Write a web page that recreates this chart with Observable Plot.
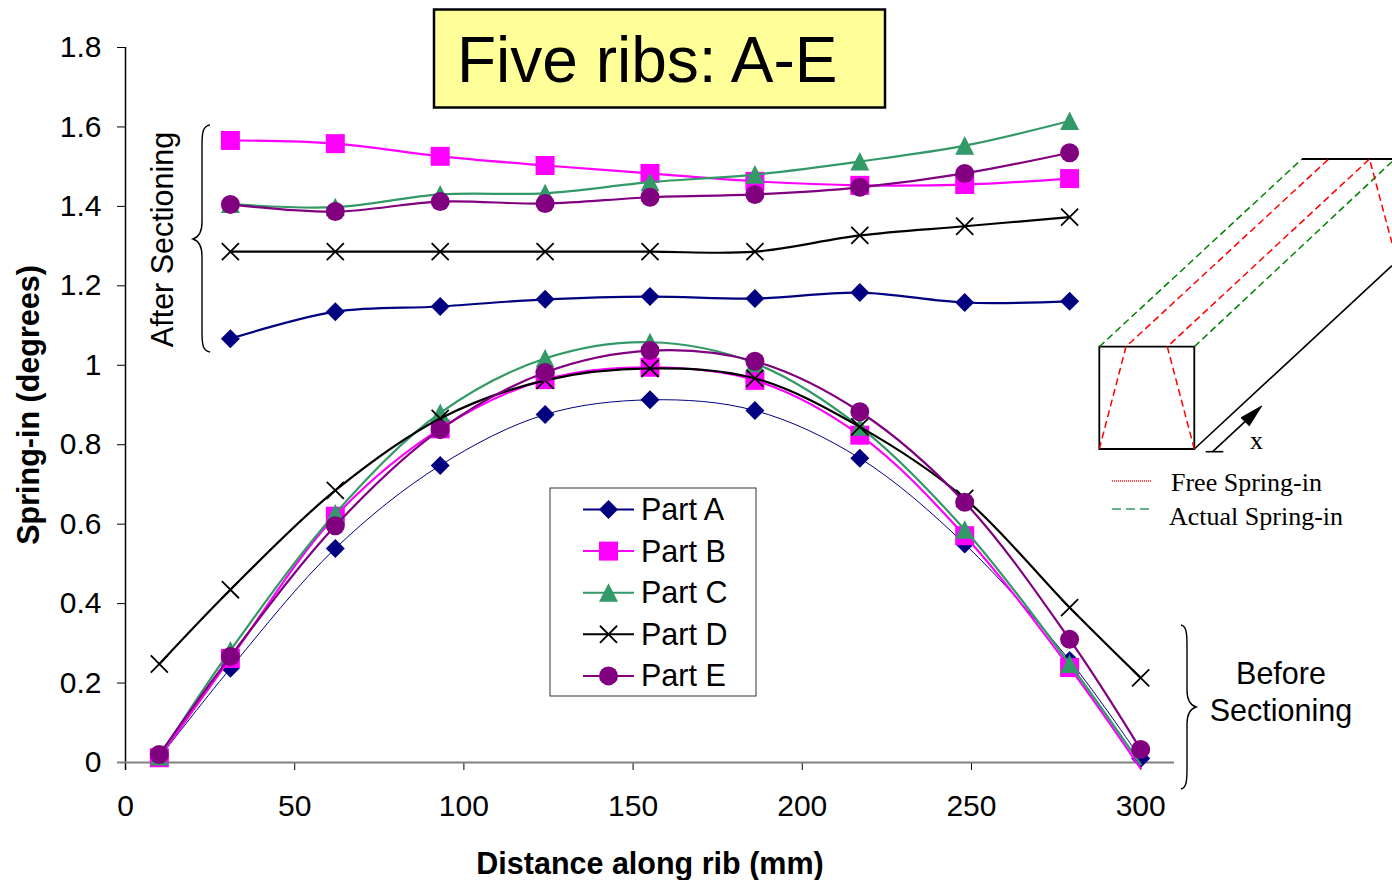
<!DOCTYPE html>
<html>
<head>
<meta charset="utf-8">
<script src="https://cdn.jsdelivr.net/npm/d3@7"></script>
<script src="https://cdn.jsdelivr.net/npm/@observablehq/plot@0.6"></script>
<style>
html,body{margin:0;padding:0;background:#fff}
svg{display:block}
g[aria-label="x-axis label"] text,g[aria-label="y-axis label"] text{font-weight:bold;font-size:30.5px;fill:#000}
</style>
</head>
<body>
<div id="chart"></div>
<script>
const parts = ["Part A","Part B","Part C","Part D","Part E"];
const colors = ["#000080","#FF00FF","#339966","#000000","#800080"];
const xBefore = [10,31,62,93,124,155,186,217,248,279,300];
const xAfter = [31,62,93,124,155,186,217,248,279];
const xTicks = [0,50,100,150,200,250,300];
const yTicks = [0,0.2,0.4,0.6,0.8,1,1.2,1.4,1.6,1.8];

const beforeA = [0.012,0.237,0.539,0.748,0.876,0.913,0.886,0.766,0.550,0.257,0.010];
const beforeB = [0.012,0.262,0.620,0.840,0.964,0.995,0.962,0.824,0.571,0.239,-0.015];
const beforeC = [0.015,0.282,0.627,0.880,1.017,1.058,1.005,0.845,0.586,0.248,-0.005];
const beforeD = [0.248,0.435,0.685,0.866,0.962,0.992,0.967,0.845,0.665,0.390,0.213];
const beforeE = [0.020,0.267,0.596,0.838,0.982,1.037,1.010,0.883,0.655,0.310,0.033];

const afterA = [1.067,1.135,1.148,1.166,1.173,1.168,1.183,1.158,1.161];
const afterB = [1.566,1.558,1.526,1.503,1.483,1.463,1.453,1.455,1.470];
const afterC = [1.406,1.398,1.430,1.433,1.461,1.480,1.513,1.553,1.615];
const afterD = [1.286,1.286,1.286,1.286,1.286,1.286,1.327,1.350,1.373];
const afterE = [1.405,1.387,1.412,1.407,1.423,1.430,1.448,1.483,1.535];

const before = [beforeA,beforeB,beforeC,beforeD,beforeE];
const after = [afterA,afterB,afterC,afterD,afterE];

// marker shapes, sized from Plot's r
const R = s => Math.sqrt(s/Math.PI);
const symDiamond = {draw(c,s){const r=R(s);c.moveTo(0,-r);c.lineTo(r,0);c.lineTo(0,r);c.lineTo(-r,0);c.closePath();}};
const symSquare = {draw(c,s){const r=R(s);c.moveTo(-r,-r);c.lineTo(r,-r);c.lineTo(r,r);c.lineTo(-r,r);c.closePath();}};
const symTriangle = {draw(c,s){const r=R(s);c.moveTo(0,-r);c.lineTo(r,r*0.95);c.lineTo(-r,r*0.95);c.closePath();}};
const symTimes = {draw(c,s){const r=R(s)*0.9;c.moveTo(-r,-r);c.lineTo(r,r);c.moveTo(r,-r);c.lineTo(-r,r);}};
const symCircle = {draw(c,s){const r=R(s);c.moveTo(r,0);c.arc(0,0,r,0,2*Math.PI);c.closePath();}};
const symbols = [symDiamond,symSquare,symTriangle,symTimes,symCircle];

const marks = [];
parts.forEach((p,i)=>{
  const tb = xBefore.map((x,k)=>({x,y:before[i][k]}));
  const ta = xAfter.map((x,k)=>({x,y:after[i][k]}));
  const isX = i===3;
  const dotOpts = isX
    ? {x:"x",y:"y",r:9.5,symbol:symbols[i],fill:"none",stroke:colors[i],strokeWidth:1.8}
    : {x:"x",y:"y",r:9.5,symbol:symbols[i],fill:colors[i],stroke:"none"};
  marks.push(Plot.line(tb,{x:"x",y:"y",curve:"catmull-rom",stroke:colors[i],strokeWidth:i===0?1:2.2}));
  marks.push(Plot.line(ta,{x:"x",y:"y",curve:"catmull-rom",stroke:colors[i],strokeWidth:2.2}));
  // points below the axis show no marker in the reference
  marks.push(Plot.dot(tb.filter(d=>d.y>=0),dotOpts));
  marks.push(Plot.dot(ta,dotOpts));
});

const plot = Plot.plot({
  width:1392,height:880,
  marginLeft:125,marginRight:218,marginTop:47,marginBottom:118,
  style:{background:"#fff",fontFamily:"'Liberation Sans',Arial,sans-serif",color:"#000"},
  x:{domain:[0,310]},
  y:{domain:[0,1.8]},
  marks:[
    Plot.axisX({ticks:xTicks,tickFormat:d=>String(d),tickSize:8,tickPadding:24,fontSize:30,
      label:"Distance along rib (mm)",labelAnchor:"center",labelArrow:"none",labelOffset:111,stroke:"#000"}),
    Plot.axisY({ticks:yTicks,tickFormat:d=>String(d),tickSize:8,tickPadding:16,fontSize:30,
      label:"Spring-in (degrees)",labelAnchor:"center",labelArrow:"none",labelOffset:108,stroke:"#000"}),
    Plot.ruleX([0],{stroke:"#000",strokeWidth:1.5,insetBottom:-8}),
    Plot.ruleY([0],{stroke:"#808080",strokeWidth:2,insetLeft:-8}),
    ...marks
  ]
});
document.getElementById("chart").appendChild(plot);

// annotations on top of the chart
const svg = d3.select(plot);
const sans = "'Liberation Sans',Arial,sans-serif", serif = "'Liberation Serif','Times New Roman',serif";
const txt = (x,y,t,size,fam,anchor)=>svg.append("text").attr("x",x).attr("y",y).text(t)
  .attr("font-size",size).attr("font-family",fam||sans).attr("text-anchor",anchor||"start").attr("fill","#000");
const pth = (d,stroke,w,dash,fill)=>svg.append("path").attr("d",d).attr("fill",fill||"none")
  .attr("stroke",stroke).attr("stroke-width",w).attr("stroke-dasharray",dash||null);

// title box
svg.append("rect").attr("x",434).attr("y",9.5).attr("width",451).attr("height",98)
  .attr("fill","#FFFF99").attr("stroke","#000").attr("stroke-width",2.5);
txt(457,82,"Five ribs: A-E",64);

// series legend
svg.append("rect").attr("x",550).attr("y",488).attr("width",206).attr("height",208)
  .attr("fill","#fff").attr("stroke","#333").attr("stroke-width",1);
parts.forEach((p,i)=>{
  const y = 509.5+i*41.6;
  svg.append("line").attr("x1",583).attr("x2",634).attr("y1",y).attr("y2",y).attr("stroke",colors[i]).attr("stroke-width",2);
  const ctx = d3.path();
  symbols[i].draw(ctx,Math.PI*9.5*9.5);
  const s = svg.append("path").attr("d",ctx.toString()).attr("transform",`translate(608.5,${y})`);
  if(i===3) s.attr("fill","none").attr("stroke","#000").attr("stroke-width",1.8);
  else s.attr("fill",colors[i]);
  txt(641,y+10.5,p,30.5);
});

// braces and their labels
pth("M210,125 C203,126 202,132 202,145 L202,222 C202,232 199,237 193,239 C199,241 202,246 202,256 L202,332 C202,345 203,351 210,352","#000",1.4);
pth("M1181,625 C1186,626 1187,632 1187,645 L1187,690 C1187,700 1190,705 1196,707 C1190,709 1187,714 1187,724 L1187,769 C1187,782 1186,788 1181,789","#000",1.4);
svg.append("text").attr("transform","translate(173,239.5) rotate(-90)").attr("text-anchor","middle")
  .attr("font-size",30.5).attr("font-family",sans).attr("fill","#000").text("After Sectioning");
txt(1281,684,"Before",30.5,sans,"middle");
txt(1281,721,"Sectioning",30.5,sans,"middle");

// rib sketch
pth("M1099.3,346.7H1194.3V449H1099.3Z","#000",1.8);
pth("M1302,159H1392","#000",1.8);
pth("M1194.3,449L1392,265.7","#000",1.6);
const green="#008000", red="#ff0000";
pth("M1099.3,346.7L1302,159",green,1.5,"7 4");
pth("M1194.3,346.7L1392,161.7",green,1.5,"7 4");
pth("M1099.3,449L1126,346.7L1328.7,159",red,1.5,"7 4");
pth("M1194.3,449L1167.3,346.7L1369.5,159L1392,243",red,1.5,"7 4");
pth("M1205.7,451.7H1223.3","#000",1.6);
pth("M1212.7,451.7L1245,421.7","#000",1.6);
pth("M1261.7,406L1241,417.7L1249.3,425.7Z","#000",1,null,"#000");
txt(1250,449,"x",26,serif);
pth("M1112,481H1152",red,1.5,"1 1");
pth("M1112,509H1152","#339966",1.5,"9 5");
txt(1171,491,"Free Spring-in",26,serif);
txt(1169,525,"Actual Spring-in",26,serif);
</script>
</body>
</html>
